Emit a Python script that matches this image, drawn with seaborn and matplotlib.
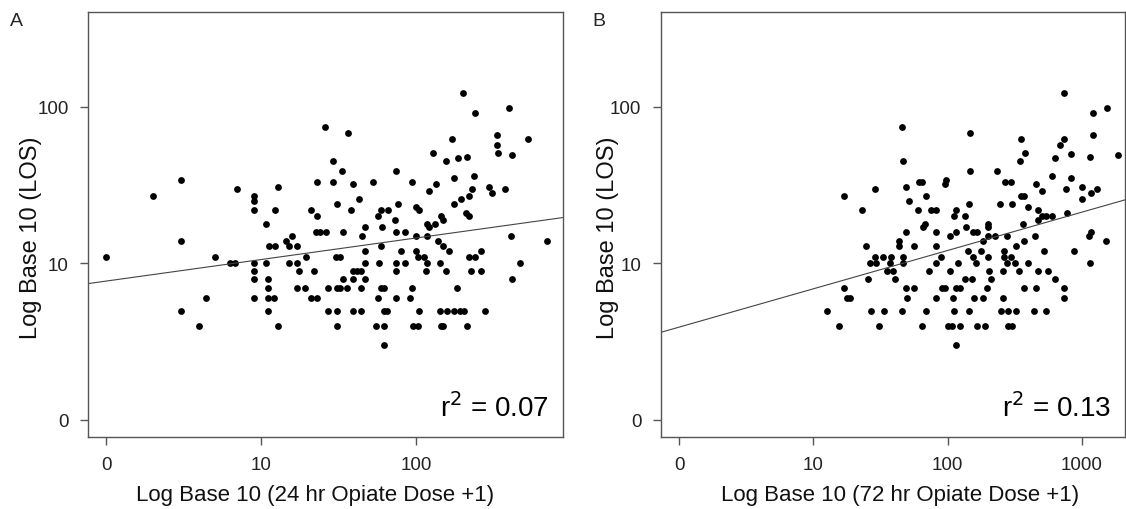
import numpy as np
import matplotlib
matplotlib.use("Agg")
import matplotlib.pyplot as plt
import seaborn as sns

# Panel A: log10(24 hr opiate dose + 1) and length of stay (days)
dose24_log = [0.00, 0.30, 0.48, 0.48, 0.48, 0.60, 0.64, 0.70, 0.80, 0.83,
              0.84, 0.95, 0.95, 0.95, 0.95, 0.95, 0.95, 0.95, 1.03, 1.03,
              1.04, 1.04, 1.04, 1.04, 1.05, 1.09, 1.08, 1.09, 1.11, 1.11,
              1.16, 1.18, 1.20, 1.23, 1.18, 1.23, 1.24, 1.29, 1.23, 1.28,
              1.32, 1.36, 1.34, 1.32, 1.36, 1.36, 1.35, 1.38, 1.42, 1.41,
              1.46, 1.46, 1.49, 1.48, 1.51, 1.43, 1.43, 1.49, 1.51, 1.55,
              1.49, 1.49, 1.52, 1.56, 1.53, 1.53, 1.58, 1.59, 1.59, 1.62,
              1.64, 1.59, 1.67, 1.63, 1.59, 1.64, 1.64, 1.67, 1.65, 1.67,
              1.67, 1.72, 1.75, 1.74, 1.79, 1.75, 1.77, 1.82, 1.78, 1.77,
              1.76, 1.77, 1.79, 1.79, 1.81, 1.79, 1.87, 1.88, 1.86, 1.87,
              1.93, 1.90, 1.87, 1.93, 1.87, 1.87, 1.96, 1.97, 1.97, 2.00,
              2.02, 2.00, 2.00, 2.01, 2.05, 2.02, 1.98, 2.01, 2.07, 2.07,
              2.06, 2.07, 2.08, 2.08, 2.11, 2.13, 2.12, 2.14, 2.15, 2.17,
              2.21, 2.16, 2.17, 2.15, 2.20, 2.16, 2.17, 2.19, 2.19, 2.23,
              2.24, 2.24, 2.24, 2.28, 2.31, 2.26, 2.30, 2.27, 2.29, 2.32,
              2.33, 2.34, 2.34, 2.33,
              2.38, 2.60, 2.52, 2.52, 2.53, 2.72, 2.62, 2.37, 2.36, 2.47,
              2.49, 2.57, 2.34, 2.61, 2.84, 2.38, 2.42, 2.35, 2.42, 2.67,
              2.62, 2.44]
los_a = [11, 27, 34, 14, 5, 4, 6, 11, 10, 10,
         30, 27, 25, 22, 10, 9, 8, 6, 18, 10,
         8, 7, 6, 5, 13, 13, 6, 22, 31, 4,
         14, 13, 15, 13, 10, 10, 9, 11, 7, 7,
         6, 6, 9, 22, 20, 33, 16, 16, 16, 75,
         45, 33, 24, 11, 11, 7, 5, 7, 7, 7,
         5, 4, 39, 68, 16, 8, 22, 32, 9, 9,
         9, 8, 8, 26, 5, 5, 7, 17, 15, 12,
         10, 33, 6, 4, 4, 20, 22, 22, 17, 13,
         10, 7, 7, 5, 5, 3, 39, 24, 19, 16,
         16, 12, 10, 10, 9, 6, 6, 7, 33, 23,
         22, 15, 12, 11, 11, 5, 4, 4, 15, 10,
         9, 18, 17, 29, 51, 32, 18, 14, 10, 13,
         12, 20, 19, 5, 5, 4, 4, 9, 45, 62,
         35, 24, 5, 5, 5, 7, 122, 47, 26, 21,
         48, 27, 11, 4,
         91, 98, 66, 57, 51, 62, 49, 36, 30, 31,
         28, 30, 20, 15, 14, 11, 12, 9, 9, 10,
         8, 5]

# Panel B: log10(72 hr opiate dose + 1) and length of stay (days)
dose72_log = [1.66, 1.67, 1.23, 1.46, 1.36, 1.69, 1.79, 1.81, 1.84, 1.71,
              1.78, 1.88, 1.91, 1.83, 1.82, 1.69, 1.91, 1.39, 1.64, 1.64,
              1.75, 1.91, 1.46, 1.52, 1.58, 1.67, 1.42, 1.47, 1.57, 1.67,
              1.91, 1.55, 1.59, 1.86, 1.41, 1.61, 1.23, 1.69, 1.75, 1.25,
              1.27, 1.70, 1.91, 1.10, 1.43, 1.53, 1.66, 1.84, 1.19, 1.49,
              1.81,
              2.87, 3.08, 3.19, 2.17, 3.08, 2.87, 2.84, 2.55, 2.58, 2.54,
              2.80, 2.92, 3.06, 3.27, 2.17, 2.37, 1.98, 1.99, 2.43, 2.47,
              2.78, 2.66, 2.92, 3.00, 3.11, 3.07, 2.88, 2.70, 2.55, 2.57,
              3.00, 2.16, 2.39, 2.48, 2.60, 2.06, 2.05, 2.13, 2.67, 2.67,
              2.70, 2.73, 2.78, 2.89, 2.14, 2.19, 2.22, 2.30, 2.30, 2.56,
              2.06, 2.02, 2.30, 2.35, 2.44, 2.65, 2.57, 2.26, 3.05, 3.07,
              3.18, 2.51, 2.15, 2.25, 2.42, 2.72, 2.94, 1.95, 2.19, 2.30,
              2.42, 2.47, 2.08, 2.21, 2.44, 2.50, 2.60, 3.06, 2.02, 2.31,
              2.41, 2.53, 2.67, 2.75, 2.13, 2.18, 2.32, 2.80, 1.96, 1.98,
              2.06, 2.09, 2.29, 2.57, 2.66, 2.87, 2.04, 2.20, 2.26, 2.41,
              2.87, 2.05, 2.16, 2.40, 2.45, 2.51, 2.64, 2.73, 2.00, 2.03,
              2.09, 2.22, 2.28, 2.45, 2.48, 2.06]
los_b = [75, 45, 27, 30, 22, 31, 33, 33, 27, 25,
         22, 22, 22, 18, 17, 16, 16, 13, 14, 13,
         13, 13, 11, 11, 11, 11, 10, 10, 10, 10,
         10, 9, 9, 9, 8, 8, 7, 7, 7, 6,
         6, 6, 6, 5, 5, 5, 5, 5, 4, 4,
         4,
         122, 91, 98, 68, 66, 62, 57, 62, 51, 45,
         47, 50, 48, 49, 39, 39, 32, 34, 33, 33,
         36, 32, 35, 31, 30, 28, 30, 29, 27, 27,
         26, 24, 24, 24, 23, 22, 20, 20, 22, 19,
         20, 20, 20, 21, 17, 16, 16, 18, 17, 18,
         16, 15, 15, 15, 15, 15, 14, 14, 15, 16,
         14, 13, 12, 12, 12, 12, 12, 11, 11, 11,
         11, 11, 10, 10, 10, 10, 10, 10, 9, 9,
         9, 9, 9, 9, 8, 8, 8, 8, 7, 7,
         7, 7, 7, 7, 7, 7, 6, 6, 6, 6,
         6, 5, 5, 5, 5, 5, 5, 5, 4, 4,
         4, 4, 4, 4, 4, 3]

r2_labels = ["r$^2$ = 0.07", "r$^2$ = 0.13"]
panel_letters = ["A", "B"]
xlabels = ["Log Base 10 (24 hr Opiate Dose +1)", "Log Base 10 (72 hr Opiate Dose +1)"]
xtick_labels_a = ["0", "10", "100"]
xtick_labels_b = ["0", "10", "100", "1000"]
ytick_labels = ["0", "10", "100"]

sns.set_style("ticks")
plt.rcParams['font.family'] = ['Liberation Sans', 'DejaVu Sans']

fig = plt.figure(figsize=(11.26, 5.10), dpi=100)
ax_a = fig.add_axes([0.0782, 0.1418, 0.4215, 0.8327])
ax_b = fig.add_axes([0.5868, 0.1418, 0.4122, 0.8327])

panels = [
    (ax_a, dose24_log, los_a, (-0.118, 2.944), xtick_labels_a, (-0.098, 0.47), (0.478, -0.112)),
    (ax_b, dose72_log, los_b, (-0.136, 3.32), xtick_labels_b, (-0.090, 0.47), (0.515, -0.112)),
]

for i, (ax, xs, los, xlim, xticklabels, ylab_pos, xlab_pos) in enumerate(panels):
    ys = np.log10(los)
    ax.set_xlim(*xlim)
    ax.set_ylim(-0.107, 2.607)
    sns.scatterplot(x=xs, y=ys, ax=ax, color="black", s=24, linewidth=0)
    # least-squares fit drawn across the whole panel
    sns.regplot(x=np.array(xs), y=ys, ax=ax, scatter=False, ci=None, truncate=False,
                line_kws=dict(color="#444444", lw=0.8))
    ax.set_xlim(*xlim)
    ax.set_ylim(-0.107, 2.607)

    ax.set_xticks(range(len(xticklabels)))
    ax.set_xticklabels(xticklabels)
    ax.set_yticks(range(len(ytick_labels)))
    ax.set_yticklabels(ytick_labels)
    ax.tick_params(axis="both", length=6, width=1, color="#555555",
                   labelsize=13.5, labelcolor="#222222", pad=8)

    for side in ["left", "right", "top", "bottom"]:
        ax.spines[side].set_visible(True)
        ax.spines[side].set_color("#555555")
        ax.spines[side].set_linewidth(1.0)

    ax.set_xlabel(xlabels[i], fontsize=16, color="#111111")
    ax.set_ylabel("Log Base 10 (LOS)", fontsize=17, color="#111111")
    ax.yaxis.set_label_coords(*ylab_pos)
    ax.xaxis.set_label_coords(*xlab_pos)
    ax.text(0.97, 0.035, r2_labels[i], transform=ax.transAxes, ha="right", va="bottom",
            fontsize=20, color="black")

fig.text(0.009, 0.975, panel_letters[0], fontsize=14, va="top", ha="left")
fig.text(0.526, 0.975, panel_letters[1], fontsize=14, va="top", ha="left")

fig.savefig("out.png", dpi=100)
